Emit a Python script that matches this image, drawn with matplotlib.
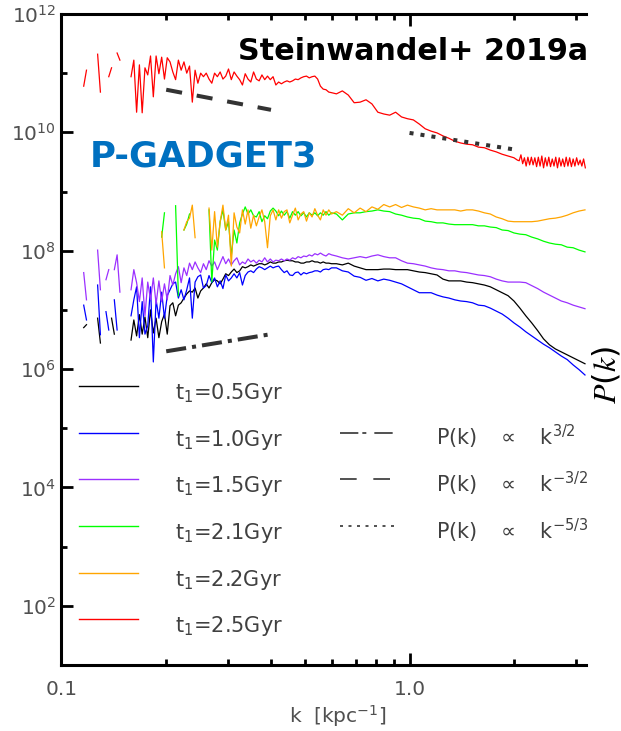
import numpy as np
import matplotlib
matplotlib.use("Agg")
import matplotlib.pyplot as plt
from matplotlib.ticker import FixedLocator, FixedFormatter, NullFormatter, FuncFormatter

plt.rcParams["font.family"] = ["DejaVu Sans"]
plt.rcParams["mathtext.fontset"] = "dejavusans"
plt.rcParams["mathtext.default"] = "regular"

nan = np.nan

# log10 of the wavenumber sampling, k in kpc^-1
logk_low = np.linspace(-0.944, -0.224, 91)
logk_mid = np.linspace(-0.210, 0.504, 43)
logk_tail = np.linspace(0.305, 0.505, 41)

# log10 P(k) of the magnetic power spectrum for each snapshot
logP_05_low = [
    nan, 6.70, 6.75, nan, nan, nan, 6.86, 6.44, nan, nan,
    nan, 6.86, 6.59, nan, nan, nan, nan, nan, 6.49, 6.83,
    6.56, 6.92, 6.59, 6.88, 6.53, 7.00, 6.61, 6.86, 6.53, 6.80,
    6.93, 6.59, 7.07, 7.12, 6.90, 7.08, 7.12, 7.20, 7.27, 7.32,
    7.30, 7.37, 7.20, 7.32, 7.37, 7.44, 7.37, 7.46, 7.51, 7.49,
    7.44, 7.52, 7.61, 7.58, 7.64, 7.69, 7.63, 7.66, 7.73, 7.71,
    7.73, 7.76, 7.74, 7.76, 7.78, 7.78, 7.76, 7.78, 7.81, 7.79,
    7.79, 7.81, 7.81, 7.83, 7.84, 7.83, 7.83, 7.81, 7.81, 7.79,
    7.79, 7.81, 7.81, 7.83, 7.81, 7.81, 7.79, 7.81, 7.79, 7.79,
    7.78]
logP_05_mid = [
    7.78, 7.76, 7.79, 7.74, 7.71, 7.68, 7.68, 7.68, 7.69, 7.69,
    7.68, 7.68, 7.68, 7.66, 7.64, 7.63, 7.61, 7.59, 7.52, 7.49,
    7.49, 7.49, 7.47, 7.46, 7.44, 7.42, 7.39, 7.34, 7.29, 7.24,
    7.15, 7.03, 6.90, 6.78, 6.65, 6.51, 6.41, 6.34, 6.29, 6.24,
    6.19, 6.14, 6.09]

logP_10_low = [
    nan, 7.08, 6.83, nan, nan, nan, 7.42, 6.58, nan, 6.97,
    6.66, nan, 7.17, 6.66, nan, nan, nan, nan, 6.90, 7.17,
    7.39, 6.53, 7.14, 6.59, 6.73, 7.39, 6.12, 7.17, 6.86, 7.30,
    6.86, 7.24, 7.34, 7.44, 7.47, 7.20, 7.34, 7.17, 7.34, 7.54,
    6.86, 7.47, 7.56, 7.59, 7.37, 7.41, 7.58, 7.46, 7.54, 7.39,
    7.49, 7.36, 7.59, 7.49, 7.54, 7.61, 7.54, 7.63, 7.42, 7.58,
    7.64, 7.66, 7.63, 7.69, 7.73, 7.71, 7.68, 7.71, 7.74, 7.71,
    7.73, 7.74, 7.68, 7.63, 7.66, 7.59, 7.58, 7.63, 7.64, 7.59,
    7.63, 7.61, 7.63, 7.64, 7.66, 7.66, 7.64, 7.68, 7.69, 7.68,
    7.71]
logP_10_mid = [
    7.71, 7.66, 7.64, 7.57, 7.55, 7.50, 7.53, 7.49, 7.52, 7.50,
    7.47, 7.44, 7.39, 7.34, 7.29, 7.29, 7.29, 7.25, 7.22, 7.20,
    7.17, 7.15, 7.14, 7.12, 7.08, 7.07, 7.03, 6.98, 6.93, 6.86,
    6.78, 6.71, 6.63, 6.56, 6.49, 6.42, 6.36, 6.29, 6.22, 6.16,
    6.07, 5.99, 5.90]

logP_15_low = [
    nan, 7.63, 7.17, nan, nan, nan, 8.01, 7.34, nan, 7.51,
    7.68, nan, 7.68, 7.93, 7.30, nan, nan, nan, 7.34, 7.68,
    7.46, 7.14, 7.54, 6.90, 7.47, 7.17, 7.54, 7.10, 7.49, 7.14,
    7.44, 7.17, 7.58, 7.42, 7.61, 7.73, 7.46, 7.71, 7.58, 7.79,
    7.68, 7.81, 7.71, 7.63, 7.78, 7.68, 7.83, 7.74, 7.81, 7.68,
    7.79, 7.90, 7.78, 7.86, 7.76, 7.83, 7.88, 7.76, 7.81, 7.78,
    7.86, 7.81, 7.84, 7.79, 7.84, 7.81, 7.88, 7.81, 7.86, 7.81,
    7.84, 7.83, 7.86, 7.83, 7.86, 7.84, 7.88, 7.86, 7.90, 7.88,
    7.91, 7.90, 7.93, 7.91, 7.95, 7.93, 7.96, 7.93, 7.91, 7.95,
    7.93]
logP_15_mid = [
    7.91, 7.88, 7.86, 7.88, 7.90, 7.88, 7.91, 7.93, 7.90, 7.88,
    7.88, 7.83, 7.79, 7.78, 7.76, 7.74, 7.71, 7.69, 7.68, 7.66,
    7.66, 7.64, 7.63, 7.61, 7.59, 7.58, 7.56, 7.52, 7.49, 7.47,
    7.47, 7.47, 7.46, 7.41, 7.36, 7.30, 7.25, 7.20, 7.15, 7.12,
    7.08, 7.05, 7.02]

logP_21_low = [
    nan, nan, nan, nan, nan, nan, nan, nan, nan, nan,
    nan, nan, nan, nan, nan, nan, nan, nan, nan, nan,
    nan, nan, nan, nan, nan, nan, nan, nan, nan, 8.23,
    8.64, nan, nan, nan, 8.76, 7.24, nan, 8.35, 8.45, 8.62,
    nan, nan, nan, nan, nan, nan, 8.69, 7.47, 8.18, 8.01,
    8.49, 8.69, 8.35, 8.49, 7.91, 8.35, 8.13, 8.47, 8.62, 8.74,
    8.62, 8.69, 8.59, 8.57, 8.66, 8.49, 8.59, 8.54, 8.67, 8.72,
    8.67, 8.59, 8.67, 8.60, 8.66, 8.55, 8.66, 8.60, 8.66, 8.59,
    8.64, 8.57, 8.64, 8.60, 8.64, 8.59, 8.64, 8.60, 8.66, 8.60,
    8.64]
logP_21_mid = [
    8.62, 8.52, 8.62, 8.64, 8.64, 8.66, 8.67, 8.69, 8.67, 8.66,
    8.62, 8.60, 8.57, 8.55, 8.54, 8.50, 8.49, 8.47, 8.47, 8.45,
    8.44, 8.44, 8.44, 8.44, 8.42, 8.42, 8.40, 8.39, 8.35, 8.34,
    8.30, 8.28, 8.27, 8.23, 8.20, 8.16, 8.13, 8.11, 8.10, 8.06,
    8.05, 8.01, 7.98]

logP_22_low = [
    nan, nan, nan, nan, nan, nan, nan, nan, nan, nan,
    nan, nan, nan, nan, nan, nan, nan, nan, nan, nan,
    nan, nan, nan, nan, nan, nan, nan, nan, nan, 8.32,
    7.71, nan, nan, nan, nan, nan, nan, 8.35, 8.49, 8.55,
    8.77, 8.22, nan, nan, nan, nan, 8.72, 8.01, 8.66, 8.06,
    8.49, 8.77, 8.35, 8.60, 7.74, 8.64, 8.40, 8.30, 8.69, 8.45,
    8.69, 8.38, 8.60, 8.42, 8.57, 8.69, 8.49, 8.05, 8.59, 8.69,
    8.52, 8.69, 8.55, 8.66, 8.69, 8.47, 8.60, 8.72, 8.52, 8.62,
    8.66, 8.50, 8.64, 8.57, 8.71, 8.60, 8.52, 8.69, 8.60, 8.69,
    8.62]
logP_22_mid = [
    8.66, 8.60, 8.71, 8.64, 8.72, 8.66, 8.74, 8.70, 8.78, 8.74,
    8.78, 8.73, 8.77, 8.74, 8.72, 8.69, 8.71, 8.69, 8.69, 8.69,
    8.69, 8.67, 8.69, 8.69, 8.67, 8.64, 8.62, 8.57, 8.54, 8.50,
    8.49, 8.49, 8.49, 8.49, 8.50, 8.52, 8.54, 8.55, 8.57, 8.60,
    8.64, 8.67, 8.69]

logP_25_low = [
    nan, 10.78, 11.05, nan, nan, nan, 11.32, 10.68, nan, nan,
    10.94, 11.09, nan, 11.34, 11.22, nan, nan, nan, 10.94, 11.22,
    10.34, 11.14, 10.33, 11.09, 10.97, 11.29, 10.60, 11.29, 10.99, 11.27,
    10.90, 11.26, 11.19, 11.02, 10.89, 11.22, 11.05, 11.19, 11.00, 11.12,
    10.51, 11.05, 10.83, 11.00, 10.94, 11.00, 10.90, 10.83, 11.00, 10.94,
    11.02, 10.90, 10.95, 11.07, 10.89, 11.02, 10.95, 10.89, 10.80, 10.99,
    10.90, 10.85, 11.02, 10.90, 10.87, 10.97, 10.89, 10.95, 10.89, 10.94,
    10.80, 10.85, 10.82, 10.85, 10.87, 10.85, 10.87, 10.90, 10.89, 10.92,
    10.94, 10.95, 10.92, 10.94, 10.95, 10.90, 10.78, 10.73, 10.72, 10.68,
    10.67]
logP_25_mid = [
    10.65, 10.70, 10.63, 10.50, 10.51, 10.55, 10.48, 10.34, 10.31, 10.29,
    10.34, 10.26, 10.23, 10.21, 10.14, 10.06, 10.02, 9.99, 9.94, 9.90,
    9.85, 9.82, 9.80, 9.79, 9.75, 9.74, 9.70, 9.67, 9.63, 9.60,
    9.57]
logP_25_tail = [
    9.55, 9.53, 9.52, 9.62, 9.47, 9.57, 9.43, 9.58, 9.45, 9.58,
    9.45, 9.57, 9.42, 9.58, 9.43, 9.60, 9.40, 9.57, 9.43, 9.58,
    9.42, 9.55, 9.43, 9.58, 9.40, 9.57, 9.43, 9.55, 9.42, 9.58,
    9.43, 9.57, 9.42, 9.55, 9.43, 9.57, 9.45, 9.53, 9.43, 9.55,
    9.40]

labels = ["t$_1$=0.5Gyr", "t$_1$=1.0Gyr", "t$_1$=1.5Gyr",
          "t$_1$=2.1Gyr", "t$_1$=2.2Gyr", "t$_1$=2.5Gyr"]
colors = ["#000000", "#0000ff", "#9b30ff", "#00ff00", "#ffa500", "#ff0000"]

# reference power laws
guide_labels = [r"P(k)   $\propto$   k$^{3/2}$",
                r"P(k)   $\propto$   k$^{-3/2}$",
                r"P(k)   $\propto$   k$^{-5/3}$"]
rise_k = [0.2, 0.4]
rise_P = [10**6.30, 10**6.59]
fall_k = [0.2, 0.4]
fall_P = [10**10.72, 10**10.38]
kolmo_k = [1.0, 2.0]
kolmo_P = [10**9.99, 10**9.71]

logk_full = np.concatenate([logk_low, logk_mid])
logk_red = np.concatenate([logk_low, logk_mid[:31], logk_tail])
curves = [
    (logk_full, logP_05_low + logP_05_mid),
    (logk_full, logP_10_low + logP_10_mid),
    (logk_full, logP_15_low + logP_15_mid),
    (logk_full, logP_21_low + logP_21_mid),
    (logk_full, logP_22_low + logP_22_mid),
    (logk_red, logP_25_low + logP_25_mid + logP_25_tail),
]

fig = plt.figure(figsize=(6.21, 7.31), dpi=100)
ax = fig.add_axes([0.0989, 0.0903, 0.8445, 0.8906])

for (lk, lp), c in zip(curves, colors):
    lp = np.asarray(lp, dtype=float)
    assert len(lk) == len(lp)
    ax.plot(10**lk, 10**lp, color=c, lw=0.9, solid_joinstyle="round")

guide_col = "#333333"
guide_styles = [(0, (5, 1.5, 1, 1.5)), (0, (4, 3.7)), (0, (1, 1.75))]
for (gk, gp), ls in zip([(rise_k, rise_P), (fall_k, fall_P), (kolmo_k, kolmo_P)],
                        guide_styles):
    ax.plot(gk, gp, color=guide_col, lw=2.9, linestyle=ls, dash_capstyle="butt")

ax.set_xscale("log")
ax.set_yscale("log")
ax.set_xlim(0.1, 3.21)
ax.set_ylim(1e1, 1e12)

ax.xaxis.set_major_locator(FixedLocator([0.1, 1.0]))
ax.xaxis.set_major_formatter(FixedFormatter(["0.1", "1.0"]))
ax.xaxis.set_minor_locator(FixedLocator([0.2, 0.3, 0.4, 0.5, 0.6, 0.7, 0.8, 0.9, 2.0, 3.0]))
ax.xaxis.set_minor_formatter(NullFormatter())
ax.yaxis.set_major_locator(FixedLocator([10.0**e for e in range(2, 13, 2)]))
ax.yaxis.set_major_formatter(FuncFormatter(lambda v, p: r"$10^{%d}$" % round(np.log10(v))))
ax.yaxis.set_minor_locator(FixedLocator([10.0**e for e in range(3, 12, 2)]))
ax.yaxis.set_minor_formatter(NullFormatter())

ax.tick_params(which="both", direction="in", top=True, right=False,
               width=2.0, labelcolor="#505050", labelsize=14.5)
ax.tick_params(which="major", length=8.5)
ax.tick_params(which="minor", length=4.5)
ax.tick_params(axis="x", which="major", pad=11)
ax.tick_params(axis="y", which="major", pad=4)
for side in ("left", "bottom", "top"):
    ax.spines[side].set_linewidth(2.2)
ax.spines["right"].set_visible(False)

ax.set_xlabel(r"k  [kpc$^{-1}$]", fontsize=14.5, color="#505050", va="center")
ax.xaxis.set_label_coords(0.527, -0.0785)

fig.text(0.976, 0.487, r"$\mathit{P}(\mathit{k})$", rotation=90, fontsize=23,
         ha="center", va="center", math_fontfamily="stix")

# keys: line sample with its label, one row per entry (axes fractions)
key_top = 0.4286
key_step = 0.07168
key_base = 0.0200


def key_row(row, x0, x1, xt, label, **line_kw):
    y = key_top - row * key_step
    ax.plot([x0, x1], [y, y], transform=ax.transAxes, clip_on=False, **line_kw)
    ax.text(xt, y - key_base, label, transform=ax.transAxes, fontsize=15,
            color="#404040", ha="left", va="baseline")


for i, (lab, c) in enumerate(zip(labels, colors)):
    key_row(i, 0.0336, 0.1461, 0.2166, lab, color=c, lw=1.0)

guide_keys = [(0, (11, 2.4, 2.4, 4.8)), (0, (10, 10)), (0, (1.8, 3.3))]
for i, (lab, ls) in enumerate(zip(guide_labels, guide_keys)):
    key_row(i + 1, 0.5313, 0.6343, 0.7143, lab, color=guide_col, lw=1.2,
            linestyle=ls, dash_capstyle="butt")

fig.text(90 / 621, 1 - 166.7 / 731, "P-GADGET3", fontsize=25.5, fontweight="bold",
         color="#0070c0", ha="left", va="baseline")
fig.text(588 / 621, 1 - 60 / 731, "Steinwandel+ 2019a", fontsize=21.7,
         fontweight="bold", color="black", ha="right", va="baseline")

fig.savefig("out.png", dpi=100)
